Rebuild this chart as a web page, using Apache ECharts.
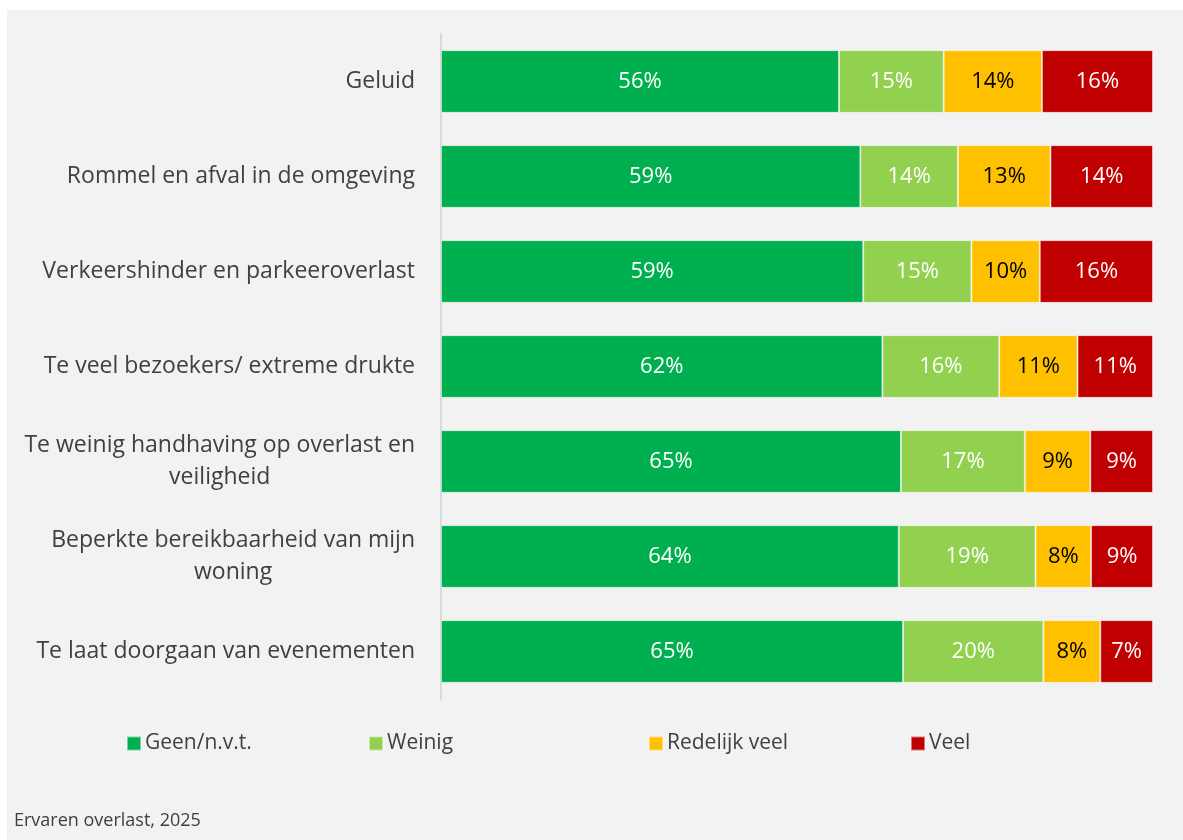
<!DOCTYPE html>
<html>
<head>
    <meta charset="utf-8">
    <title>Ervaren overlast</title>
    <script src="https://cdn.jsdelivr.net/npm/echarts@6/dist/echarts.min.js"></script>
    <style>
        body { margin: 0; background: #ffffff; }
        #main { position: absolute; left: 7px; top: 10px; width: 1176px; height: 830px; }
    </style>
</head>
<body>
    <div id="main"></div>
    <script type="text/javascript">
        // categorieen, van boven naar beneden
        var categories = [
            'Geluid',
            'Rommel en afval in de omgeving',
            'Verkeershinder en parkeeroverlast',
            'Te veel bezoekers/ extreme drukte',
            'Te weinig handhaving op overlast en\nveiligheid',
            'Beperkte bereikbaarheid van mijn\nwoning',
            'Te laat doorgaan van evenementen'
        ];

        var geen     = [55.9, 58.9, 59.3, 62.0, 64.6, 64.3, 64.9];
        var weinig   = [14.7, 13.7, 15.2, 16.4, 17.4, 19.2, 19.7];
        var redelijk = [13.8, 13.0,  9.6, 11.0,  9.2,  7.8,  8.0];
        var veel     = [15.6, 14.4, 15.9, 10.6,  8.8,  8.7,  7.4];

        var seriesNames = ['Geen/n.v.t.', 'Weinig', 'Redelijk veel', 'Veel'];
        var seriesData = [geen, weinig, redelijk, veel];
        var colors = ['#00b050', '#92d050', '#ffc000', '#c00000'];
        var labelColors = ['#ffffff', '#ffffff', '#000000', '#ffffff'];
        var legendLeft = [119, 361, 641, 903];

        var font = '"Open Sans", "Noto Sans", sans-serif';
        var myChart = echarts.init(document.getElementById('main'));

        var series = [];
        for (var i = 0; i < seriesNames.length; i++) {
            series.push({
                name: seriesNames[i],
                type: 'bar',
                stack: 'totaal',
                barWidth: '66%',
                data: seriesData[i],
                itemStyle: {
                    color: colors[i],
                    borderColor: 'rgba(255,255,255,0.45)',
                    borderWidth: 1
                },
                label: {
                    show: true,
                    position: 'inside',
                    color: labelColors[i],
                    fontFamily: font,
                    fontSize: 22,
                    formatter: function (p) { return Math.round(p.value) + '%'; }
                },
                emphasis: { disabled: true }
            });
        }

        var legends = [];
        for (var j = 0; j < seriesNames.length; j++) {
            legends.push({
                data: [seriesNames[j]],
                left: legendLeft[j],
                top: 723,
                itemWidth: 14,
                itemHeight: 14,
                itemGap: 0,
                padding: 0,
                icon: 'rect',
                textStyle: { color: '#404040', fontFamily: font, fontSize: 21, padding: [0, 0, 0, -1] }
            });
        }

        var option = {
            backgroundColor: '#f2f2f2',
            animation: false,
            title: {
                text: 'Ervaren overlast, 2025',
                left: 7,
                top: 802,
                padding: 0,
                textStyle: { color: '#404040', fontFamily: font, fontSize: 18, fontWeight: 'normal' }
            },
            legend: legends,
            grid: { left: 434, right: 30, top: 24, bottom: 141 },
            xAxis: {
                type: 'value',
                min: 0,
                max: 100,
                show: false
            },
            yAxis: {
                type: 'category',
                inverse: true,
                data: categories,
                axisLine: { show: true, lineStyle: { color: '#d9d9d9', width: 2 } },
                axisTick: { show: false },
                axisLabel: {
                    margin: 26,
                    color: '#404040',
                    fontFamily: font,
                    fontSize: 23,
                    lineHeight: 32,
                    formatter: function (v) {
                        return v.split('\n').map(function (s) { return '{c|' + s + '}'; }).join('\n');
                    },
                    rich: {
                        c: { align: 'center', color: '#404040', fontFamily: font, fontSize: 23, lineHeight: 32 }
                    }
                }
            },
            series: series
        };

        myChart.setOption(option);
    </script>
</body>
</html>
